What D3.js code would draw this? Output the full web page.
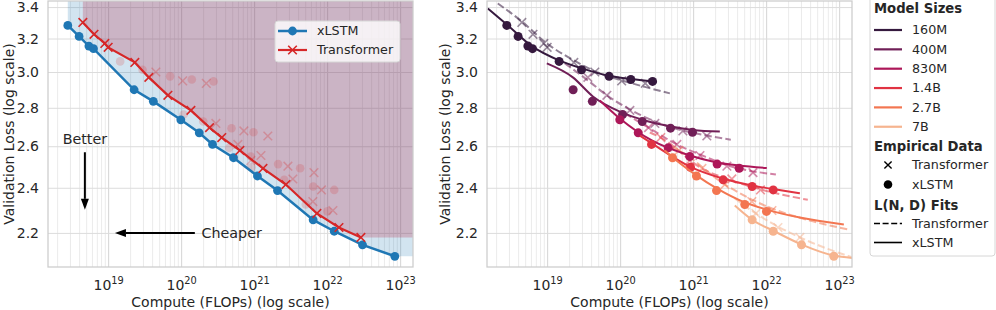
<!DOCTYPE html>
<meta charset="utf-8">
<script src="https://d3js.org/d3.v7.min.js"></script>
<style>
  body { margin: 0; background: #fff; }
  svg text { font-family: "DejaVu Sans", sans-serif; fill: #262626; }
</style>
<div id="my_dataviz"></div>
<script>

// model sizes and their colours (rocket palette)
var sizes = ["160M", "400M", "830M", "1.4B", "2.7B", "7B"];
var sizeColors = ["#35193e", "#701f57", "#ad1759", "#e13342", "#f37651", "#f6b48f"];

// empirical xLSTM runs, one list per model size: compute (FLOPs) and validation loss
var xlstmCompute = [
  [2.8e18, 4.0e18, 5.45e18, 6.3e18, 1.46e19, 2.96e19, 7.06e19, 1.4e20, 2.78e20],
  [2.27e19, 4.16e19, 1.08e20, 2.01e20, 4.9e20, 9.8e20],
  [9.9e19, 1.77e20, 4.55e20, 9.0e20, 2.13e21, 4.27e21],
  [2.69e20, 9.2e20, 2.58e21, 6.43e21, 1.25e22],
  [5.22e20, 1.11e21, 2.09e21, 5.1e21, 1.01e22],
  [6.43e21, 1.25e22, 3.05e22, 8.45e22]
];
var xlstmLoss = [
  [3.282, 3.213, 3.154, 3.138, 3.062, 3.013, 2.975, 2.957, 2.946],
  [2.899, 2.835, 2.764, 2.727, 2.692, 2.671],
  [2.736, 2.668, 2.592, 2.549, 2.512, 2.492],
  [2.609, 2.497, 2.437, 2.406, 2.390],
  [2.543, 2.455, 2.387, 2.324, 2.293],
  [2.256, 2.207, 2.150, 2.103]
];
// 1 = run sits on the compute frontier shown in the left panel
var xlstmFrontier = [
  [1, 1, 1, 1, 0, 0, 0, 0, 0],
  [1, 1, 0, 0, 0, 0],
  [1, 1, 0, 0, 0, 0],
  [1, 0, 0, 0, 0],
  [1, 1, 1, 0, 0],
  [1, 1, 1, 1]
];

// empirical Transformer runs
var transCompute = [
  [4.5e18, 6.4e18, 9.0e18, 1.0e19, 2.32e19, 4.5e19, 1.05e20, 2.21e20],
  [3.61e19, 6.58e19, 1.36e20, 2.99e20, 7.23e20, 1.54e21],
  [2.45e20, 5.98e20, 1.24e21, 2.9e21, 6.6e21],
  [3.6e20, 9.0e20, 3.39e21, 8.37e21],
  [6.37e20, 1.32e21, 2.72e21, 6.37e21, 1.2e22],
  [7.23e21, 1.45e22, 2.9e22]
];
var transLoss = [
  [3.301, 3.226, 3.170, 3.146, 3.056, 3.000, 2.949, 2.935],
  [2.969, 2.868, 2.786, 2.717, 2.678, 2.652],
  [2.695, 2.609, 2.554, 2.502, 2.471],
  [2.644, 2.529, 2.441, 2.390],
  [2.579, 2.491, 2.415, 2.337, 2.297],
  [2.284, 2.223, 2.181]
];
var transFrontier = [
  [1, 1, 1, 1, 1, 0, 0, 0],
  [1, 1, 1, 0, 0, 0],
  [1, 0, 0, 0, 0],
  [1, 0, 0, 0],
  [1, 1, 1, 0, 0],
  [1, 1, 1]
];

// L(N, D) fit curves, sampled off the right panel
var xlstmFitCompute = [
  [1.54e18, 2.8e18, 6.17e18, 1.45e19, 2.99e19, 7.0e19, 1.4e20, 3.19e20],
  [9.9e18, 2.25e19, 4.23e19, 1.05e20, 2.05e20, 4.95e20, 9.9e20, 2.32e21],
  [5.27e19, 9.9e19, 2.72e20, 9.0e20, 2.11e21, 4.23e21, 1.02e22],
  [1.86e20, 2.72e20, 9.0e20, 2.55e21, 6.37e21, 1.24e22, 2.9e22],
  [4.09e20, 5.27e20, 1.12e21, 2.11e21, 5.1e21, 1.02e22, 2.9e22, 1.16e23],
  [3.72e21, 6.37e21, 1.24e22, 3.08e22, 8.45e22, 1.54e23]
];
var xlstmFitLoss = [
  [3.391, 3.288, 3.153, 3.068, 3.021, 2.978, 2.960, 2.944],
  [3.050, 2.969, 2.862, 2.775, 2.735, 2.701, 2.683, 2.675],
  [2.840, 2.743, 2.629, 2.554, 2.520, 2.505, 2.493],
  [2.654, 2.614, 2.500, 2.443, 2.410, 2.394, 2.375],
  [2.579, 2.544, 2.457, 2.397, 2.333, 2.301, 2.266, 2.236],
  [2.319, 2.257, 2.210, 2.151, 2.106, 2.096]
];
var transFitCompute = [
  [2.11e18, 4.5e18, 9.9e18, 2.32e19, 5.27e19, 1.05e20, 2.18e20, 4.8e20],
  [1.75e19, 3.61e19, 6.58e19, 1.36e20, 2.99e20, 7.23e20, 1.54e21, 3.28e21],
  [1.16e20, 2.45e20, 5.98e20, 1.24e21, 2.9e21, 1.36e22],
  [2.55e20, 3.6e20, 1.32e21, 3.39e21, 8.45e21, 3.72e22],
  [4.8e20, 6.37e20, 2.72e21, 6.37e21, 1.2e22, 3.96e22, 1.4e23],
  [3.72e21, 7.23e21, 1.45e22, 2.9e22, 7.47e22, 1.54e23]
];
var transFitLoss = [
  [3.424, 3.307, 3.170, 3.068, 2.992, 2.952, 2.915, 2.879],
  [3.050, 2.952, 2.868, 2.791, 2.727, 2.680, 2.654, 2.633],
  [2.770, 2.695, 2.609, 2.559, 2.507, 2.462],
  [2.670, 2.644, 2.491, 2.434, 2.392, 2.345],
  [2.599, 2.579, 2.415, 2.346, 2.306, 2.253, 2.213],
  [2.351, 2.284, 2.227, 2.181, 2.130, 2.098]
];

// axes
var xTicks = [1e19, 1e20, 1e21, 1e22, 1e23];
var yTicks = [2.2, 2.4, 2.6, 2.8, 3.0, 3.2, 3.4];
var xDomain = [1.5e18, 1.5e23];
var yDomain = [2.06, 3.44];

var blue = "#1f77b4", red = "#d62728";

var svg = d3.select("#my_dataviz")
  .append("svg")
    .attr("width", 996)
    .attr("height", 310);

var panels = [
  {x0: 48, x1: 413, y0: 1, y1: 267, labelX: 13.5, id: "clipL"},
  {x0: 487, x1: 852, y0: 1, y1: 267, labelX: 450, id: "clipR"}
];

function setupPanel(p) {
  var x = d3.scaleLog().domain(xDomain).range([p.x0, p.x1]);
  var y = d3.scaleLog().domain(yDomain).range([p.y1, p.y0]);
  var g = svg.append("g");

  svg.append("clipPath").attr("id", p.id)
    .append("rect")
      .attr("x", p.x0).attr("y", p.y0)
      .attr("width", p.x1 - p.x0).attr("height", p.y1 - p.y0);

  // minor vertical grid
  var minor = [];
  for (var e = 18; e <= 23; e++) {
    for (var m = 2; m <= 9; m++) {
      var v = m * Math.pow(10, e);
      if (v > xDomain[0] && v < xDomain[1]) minor.push(v);
    }
  }
  g.append("g")
    .attr("transform", "translate(0," + p.y1 + ")")
    .call(d3.axisBottom(x).tickValues(minor).tickSize(-(p.y1 - p.y0)).tickFormat(""))
    .call(function(s) { s.select(".domain").remove(); })
    .selectAll("line").attr("stroke", "#e6e6e6").attr("stroke-width", 0.8);

  // major vertical grid + tick labels
  var xa = g.append("g")
    .attr("transform", "translate(0," + p.y1 + ")")
    .call(d3.axisBottom(x).tickValues(xTicks).tickSize(-(p.y1 - p.y0)).tickPadding(13).tickFormat(""));
  xa.select(".domain").remove();
  xa.selectAll("line").attr("stroke", "#d4d4d4").attr("stroke-width", 1);
  xa.selectAll(".tick text").each(function(d) {
    var t = d3.select(this).attr("font-size", "14px").attr("fill", "#262626");
    t.append("tspan").text("10");
    t.append("tspan").attr("dy", -6).attr("font-size", "9.8px").text(Math.round(Math.log10(d)));
  });

  // horizontal grid + tick labels
  var ya = g.append("g")
    .attr("transform", "translate(" + p.x0 + ",0)")
    .call(d3.axisLeft(y).tickValues(yTicks).tickSize(-(p.x1 - p.x0)).tickPadding(9).tickFormat(d3.format(".1f")));
  ya.select(".domain").remove();
  ya.selectAll("line").attr("stroke", "#dcdcdc").attr("stroke-width", 1);
  ya.selectAll(".tick text").attr("font-size", "14px").attr("fill", "#262626");

  // axis titles
  svg.append("text")
    .attr("x", (p.x0 + p.x1) / 2).attr("y", 306.5)
    .attr("text-anchor", "middle").attr("font-size", "14px")
    .text("Compute (FLOPs) (log scale)");
  svg.append("text")
    .attr("transform", "translate(" + p.labelX + "," + (p.y0 + p.y1) / 2 + ") rotate(-90)")
    .attr("text-anchor", "middle").attr("font-size", "14px")
    .text("Validation Loss (log scale)");

  return {x: x, y: y, g: g};
}

function spines(p) {
  svg.append("rect")
    .attr("x", p.x0).attr("y", p.y0)
    .attr("width", p.x1 - p.x0).attr("height", p.y1 - p.y0)
    .attr("fill", "none").attr("stroke", "#cccccc").attr("stroke-width", 1.25);
}

function flatten(compute, loss, flags) {
  var pts = [];
  compute.forEach(function(cs, i) {
    cs.forEach(function(c, j) {
      pts.push({c: c, l: loss[i][j], f: flags[i][j], s: i});
    });
  });
  return pts.sort(function(a, b) { return a.c - b.c; });
}

var xMark = "M-4.3,-4.3L4.3,4.3M-4.3,4.3L4.3,-4.3";

// ---------------- left panel: frontier comparison ----------------
var L = setupPanel(panels[0]);
var lx = L.x, ly = L.y;
var lg = svg.append("g").attr("clip-path", "url(#clipL)");

var xlstmPts = flatten(xlstmCompute, xlstmLoss, xlstmFrontier);
var transPts = flatten(transCompute, transLoss, transFrontier);
var xlstmFront = xlstmPts.filter(function(d) { return d.f; });
var transFront = transPts.filter(function(d) { return d.f; });

var line = d3.line().x(function(d) { return lx(d.c); }).y(function(d) { return ly(d.l); });

function regionAbove(front) {
  var last = front[front.length - 1];
  return [{c: front[0].c, l: yDomain[1]}].concat(front)
    .concat([{c: xDomain[1], l: last.l}, {c: xDomain[1], l: yDomain[1]}]);
}

lg.append("path").attr("d", line(regionAbove(xlstmFront)) + "Z")
  .attr("fill", blue).attr("fill-opacity", 0.2);
lg.append("path").attr("d", line(regionAbove(transFront)) + "Z")
  .attr("fill", "#bb2a4a").attr("fill-opacity", 0.26);

// runs off the frontier, faded
lg.selectAll(".fadeC").data(xlstmPts.filter(function(d) { return !d.f; }))
  .enter().append("circle")
    .attr("cx", function(d) { return lx(d.c); })
    .attr("cy", function(d) { return ly(d.l); })
    .attr("r", 4.3)
    .attr("fill", red).attr("fill-opacity", 0.18);
lg.selectAll(".fadeX").data(transPts.filter(function(d) { return !d.f; }))
  .enter().append("path")
    .attr("d", xMark)
    .attr("transform", function(d) { return "translate(" + lx(d.c) + "," + ly(d.l) + ")"; })
    .attr("stroke", red).attr("stroke-opacity", 0.28).attr("stroke-width", 1.5).attr("fill", "none");

lg.append("path").attr("d", line(xlstmFront))
  .attr("fill", "none").attr("stroke", blue).attr("stroke-width", 2.5);
lg.selectAll(".fc").data(xlstmFront).enter().append("circle")
  .attr("cx", function(d) { return lx(d.c); })
  .attr("cy", function(d) { return ly(d.l); })
  .attr("r", 4.4).attr("fill", blue);

lg.append("path").attr("d", line(transFront))
  .attr("fill", "none").attr("stroke", red).attr("stroke-width", 2.2);
lg.selectAll(".fx").data(transFront).enter().append("path")
  .attr("d", xMark)
  .attr("transform", function(d) { return "translate(" + lx(d.c) + "," + ly(d.l) + ")"; })
  .attr("stroke", red).attr("stroke-width", 1.6).attr("fill", "none");

// annotations
var betterAt = {c: 4.8e18, l0: 2.57, l1: 2.30, text: 2.613};
var cheaperAt = {l: 2.2, c0: 1.54e20, c1: 1.24e19, text: 1.9e20};

function arrow(x1, y1, x2, y2) {
  var ang = Math.atan2(y2 - y1, x2 - x1), hl = 11, hw = 4;
  var bx = x2 - hl * Math.cos(ang), by = y2 - hl * Math.sin(ang);
  svg.append("line").attr("x1", x1).attr("y1", y1).attr("x2", bx).attr("y2", by)
    .attr("stroke", "#000").attr("stroke-width", 2);
  svg.append("path")
    .attr("d", "M" + x2 + "," + y2 +
      "L" + (bx + hw * Math.sin(ang)) + "," + (by - hw * Math.cos(ang)) +
      "L" + (bx - hw * Math.sin(ang)) + "," + (by + hw * Math.cos(ang)) + "Z")
    .attr("fill", "#000");
}
arrow(lx(betterAt.c), ly(betterAt.l0), lx(betterAt.c), ly(betterAt.l1));
svg.append("text").attr("x", lx(betterAt.c)).attr("y", ly(betterAt.text))
  .attr("text-anchor", "middle").attr("font-size", "14.3px").text("Better");
arrow(lx(cheaperAt.c0), ly(cheaperAt.l), lx(cheaperAt.c1), ly(cheaperAt.l));
svg.append("text").attr("x", lx(cheaperAt.text)).attr("y", ly(cheaperAt.l))
  .attr("dy", "0.35em").attr("font-size", "14.3px").text("Cheaper");

spines(panels[0]);

// left legend
var leg = svg.append("g").attr("transform", "translate(275,21)");
leg.append("rect").attr("width", 125).attr("height", 41).attr("rx", 3)
  .attr("fill", "#fff").attr("fill-opacity", 0.8).attr("stroke", "#d6d6d6");
leg.append("line").attr("x1", 3).attr("x2", 32).attr("y1", 10).attr("y2", 10)
  .attr("stroke", blue).attr("stroke-width", 2.5);
leg.append("circle").attr("cx", 17.5).attr("cy", 10).attr("r", 4.4).attr("fill", blue);
leg.append("text").attr("x", 42).attr("y", 10).attr("dy", "0.35em").attr("font-size", "12.7px").text("xLSTM");
leg.append("line").attr("x1", 3).attr("x2", 32).attr("y1", 29).attr("y2", 29)
  .attr("stroke", red).attr("stroke-width", 2.2);
leg.append("path").attr("d", xMark).attr("transform", "translate(17.5,29)")
  .attr("stroke", red).attr("stroke-width", 1.6).attr("fill", "none");
leg.append("text").attr("x", 42).attr("y", 29).attr("dy", "0.35em").attr("font-size", "12.7px").text("Transformer");

// ---------------- right panel: per-size fits ----------------
var R = setupPanel(panels[1]);
var rx = R.x, ry = R.y;
var rg = svg.append("g").attr("clip-path", "url(#clipR)");

var fitLine = d3.line()
  .x(function(d) { return rx(d[0]); })
  .y(function(d) { return ry(d[1]); })
  .curve(d3.curveMonotoneX);

function pairs(cs, ls) { return cs.map(function(c, j) { return [c, ls[j]]; }); }

sizes.forEach(function(s, i) {
  rg.append("path").attr("d", fitLine(pairs(transFitCompute[i], transFitLoss[i])))
    .attr("fill", "none").attr("stroke", sizeColors[i]).attr("stroke-width", 2)
    .attr("stroke-opacity", 0.55).attr("stroke-dasharray", "7.4,3.2");
  rg.selectAll(".tx" + i).data(pairs(transCompute[i], transLoss[i])).enter().append("path")
    .attr("d", xMark)
    .attr("transform", function(d) { return "translate(" + rx(d[0]) + "," + ry(d[1]) + ")"; })
    .attr("stroke", sizeColors[i]).attr("stroke-opacity", 0.5).attr("stroke-width", 1.6).attr("fill", "none");
});
sizes.forEach(function(s, i) {
  rg.append("path").attr("d", fitLine(pairs(xlstmFitCompute[i], xlstmFitLoss[i])))
    .attr("fill", "none").attr("stroke", sizeColors[i]).attr("stroke-width", 2);
  rg.selectAll(".xc" + i).data(pairs(xlstmCompute[i], xlstmLoss[i])).enter().append("circle")
    .attr("cx", function(d) { return rx(d[0]); })
    .attr("cy", function(d) { return ry(d[1]); })
    .attr("r", 4.5).attr("fill", sizeColors[i]);
});

spines(panels[1]);

// right legend
var rl = svg.append("g").attr("transform", "translate(870,0)");
rl.append("rect").attr("y", -3).attr("width", 125).attr("height", 259).attr("rx", 3)
  .attr("fill", "#fff").attr("stroke", "#d6d6d6");
function legTitle(yy, t) {
  rl.append("text").attr("x", 4).attr("y", yy).attr("dy", "0.35em")
    .attr("font-size", "13.2px").attr("font-weight", "bold").text(t);
}
function legText(yy, t) {
  rl.append("text").attr("x", 42).attr("y", yy).attr("dy", "0.35em")
    .attr("font-size", "12.7px").text(t);
}
legTitle(8.5, "Model Sizes");
sizes.forEach(function(s, i) {
  var yy = 30 + i * 19.35;
  rl.append("line").attr("x1", 4).attr("x2", 32).attr("y1", yy).attr("y2", yy)
    .attr("stroke", sizeColors[i]).attr("stroke-width", 2.2);
  legText(yy, s);
});
legTitle(146, "Empirical Data");
rl.append("path").attr("d", "M-3.6,-3.6L3.6,3.6M-3.6,3.6L3.6,-3.6").attr("transform", "translate(18,165)")
  .attr("stroke", "#000").attr("stroke-width", 1.4);
legText(165, "Transformer");
rl.append("circle").attr("cx", 18).attr("cy", 184.5).attr("r", 4.3).attr("fill", "#000");
legText(184.5, "xLSTM");
legTitle(205, "L(N, D) Fits");
rl.append("line").attr("x1", 4).attr("x2", 32).attr("y1", 223.5).attr("y2", 223.5)
  .attr("stroke", "#000").attr("stroke-width", 1.6).attr("stroke-dasharray", "6,2.6");
legText(223.5, "Transformer");
rl.append("line").attr("x1", 4).attr("x2", 32).attr("y1", 242.5).attr("y2", 242.5)
  .attr("stroke", "#000").attr("stroke-width", 1.6);
legText(242.5, "xLSTM");

</script>
